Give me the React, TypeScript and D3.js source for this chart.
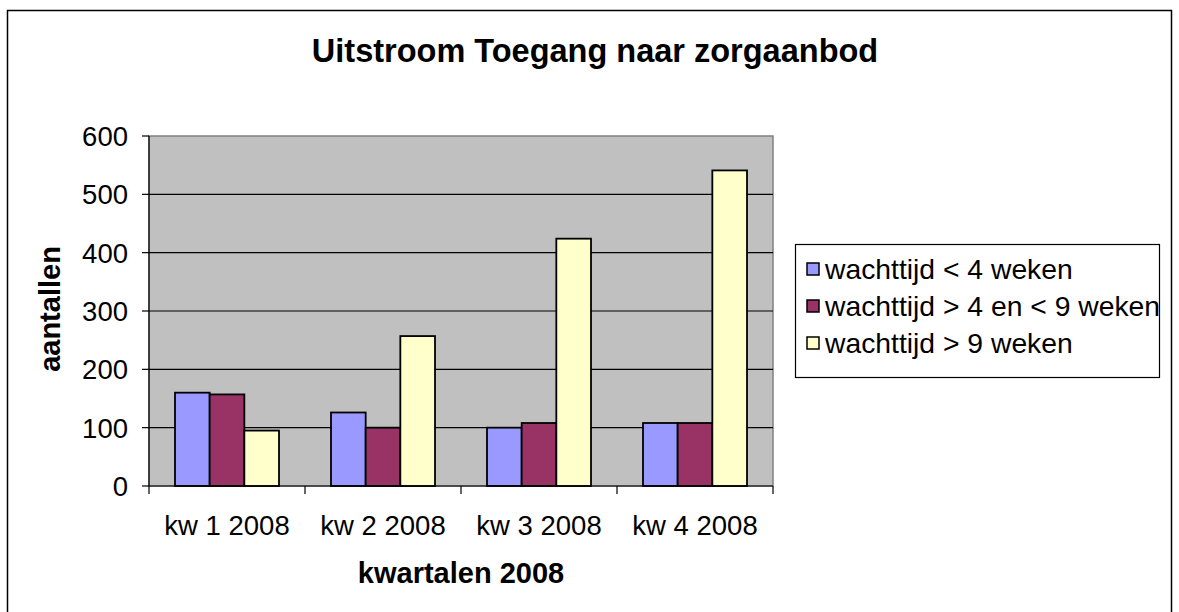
import * as d3 from "d3";

const quarters = ["kw 1 2008", "kw 2 2008", "kw 3 2008", "kw 4 2008"];
const seriesNames = [
  "wachttijd < 4 weken",
  "wachttijd > 4 en < 9 weken",
  "wachttijd > 9 weken",
];
const under4 = [160, 126, 100, 108];
const between4and9 = [157, 100, 108, 108];
const over9 = [95, 257, 424, 541];
const yTicks = [0, 100, 200, 300, 400, 500, 600];
const colors = ["#9999FF", "#993366", "#FFFFCC"];

const W = 1179;
const H = 612;
const plot = { left: 149, right: 773, top: 136, bottom: 486 };
const font = "'Liberation Sans', Arial, sans-serif";

export default function App() {
  const series = [under4, between4and9, over9];

  const x = d3
    .scaleBand<string>()
    .domain(quarters)
    .range([plot.left, plot.right])
    .paddingInner(1 / 3)
    .paddingOuter(1 / 6);
  const xs = d3
    .scaleBand<number>()
    .domain(d3.range(series.length))
    .range([0, x.bandwidth()]);
  const y = d3.scaleLinear().domain([0, 600]).range([plot.bottom, plot.top]);
  const step = x.step();

  return (
    <div style={{ position: "fixed", left: 0, top: 0 }}>
      <svg width={W} height={H} style={{ display: "block", background: "#fff" }}>
        {/* outer chart frame (runs past the bottom edge) */}
        <rect x={7.5} y={10.5} width={1164} height={620} fill="#fff" stroke="#000" strokeWidth={1.5} />

        <text
          x={595}
          y={62}
          textAnchor="middle"
          fontFamily={font}
          fontWeight="bold"
          fontSize={32.5}
        >
          Uitstroom Toegang naar zorgaanbod
        </text>

        {/* plot area */}
        <rect
          x={plot.left}
          y={plot.top}
          width={plot.right - plot.left}
          height={plot.bottom - plot.top}
          fill="#C0C0C0"
          stroke="#808080"
          strokeWidth={1.5}
        />
        {yTicks.slice(1, -1).map((t) => (
          <line key={t} x1={plot.left} x2={plot.right} y1={y(t)} y2={y(t)} stroke="#000" strokeWidth={1.2} />
        ))}

        {/* bars */}
        {series.map((vals, si) =>
          vals.map((v, qi) => (
            <rect
              key={`${si}-${qi}`}
              x={(x(quarters[qi]) ?? 0) + (xs(si) ?? 0)}
              y={y(v)}
              width={xs.bandwidth()}
              height={y(0) - y(v)}
              fill={colors[si]}
              stroke="#000"
              strokeWidth={1.8}
            />
          ))
        )}

        {/* y axis */}
        <line x1={plot.left} x2={plot.left} y1={plot.top} y2={plot.bottom} stroke="#000" strokeWidth={1.2} />
        {yTicks.map((t) => (
          <g key={t}>
            <line x1={plot.left - 7} x2={plot.left} y1={y(t)} y2={y(t)} stroke="#000" strokeWidth={1.2} />
            <text
              x={128}
              y={y(t) + 10}
              textAnchor="end"
              fontFamily={font}
              fontSize={27.5}
            >
              {t}
            </text>
          </g>
        ))}

        {/* x axis */}
        <line x1={plot.left} x2={plot.right} y1={plot.bottom} y2={plot.bottom} stroke="#000" strokeWidth={1.2} />
        {d3.range(quarters.length + 1).map((i) => (
          <line
            key={i}
            x1={plot.left + i * step}
            x2={plot.left + i * step}
            y1={plot.bottom}
            y2={plot.bottom + 8}
            stroke="#000"
            strokeWidth={1.2}
          />
        ))}
        {quarters.map((q) => (
          <text
            key={q}
            x={(x(q) ?? 0) + x.bandwidth() / 2}
            y={535}
            textAnchor="middle"
            fontFamily={font}
            fontSize={27.5}
          >
            {q}
          </text>
        ))}

        <text
          x={(plot.left + plot.right) / 2}
          y={583}
          textAnchor="middle"
          fontFamily={font}
          fontWeight="bold"
          fontSize={29}
        >
          kwartalen 2008
        </text>
        <text
          transform={`translate(60, ${309}) rotate(-90)`}
          textAnchor="middle"
          fontFamily={font}
          fontWeight="bold"
          fontSize={29}
        >
          aantallen
        </text>

        {/* legend */}
        <rect x={795.5} y={244.5} width={364} height={133} fill="#fff" stroke="#000" strokeWidth={1.2} />
        {seriesNames.map((name, i) => (
          <g key={name} transform={`translate(0, ${i * 37})`}>
            <rect x={807} y={263} width={12} height={12} fill={colors[i]} stroke="#000" strokeWidth={1.5} />
            <text x={825} y={279} fontFamily={font} fontSize={28.3}>
              {name}
            </text>
          </g>
        ))}
      </svg>
    </div>
  );
}
